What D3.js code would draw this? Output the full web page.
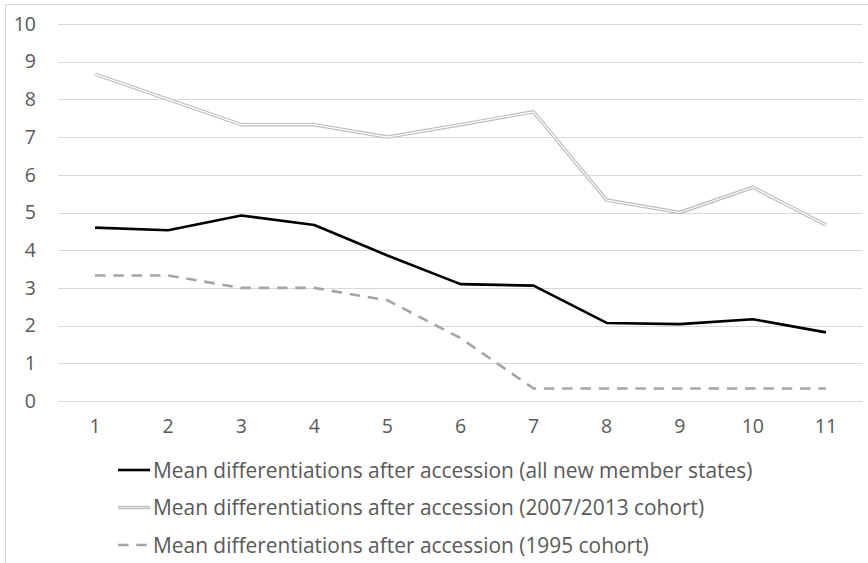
<!DOCTYPE html>
<html>
<head>
<meta charset="utf-8">
<script src="https://cdn.jsdelivr.net/npm/d3@7"></script>
<style>
  html, body { margin: 0; padding: 0; background: #fff; }
  svg { display: block; }
  text { font-family: "Open Sans", "Liberation Sans", sans-serif; fill: #595959; }
</style>
</head>
<body>
<script>
// Years after accession
const years = [1, 2, 3, 4, 5, 6, 7, 8, 9, 10, 11];
// Mean differentiations, per series
const allStates = [4.6, 4.53, 4.92, 4.67, 3.86, 3.1, 3.06, 2.07, 2.04, 2.17, 1.82];
const cohort2007 = [8.67, 8.0, 7.33, 7.33, 7.0, 7.33, 7.67, 5.33, 5.0, 5.67, 4.67];
const cohort1995 = [3.33, 3.33, 3.0, 3.0, 2.67, 1.67, 0.33, 0.33, 0.33, 0.33, 0.33];
const yTicks = [0, 1, 2, 3, 4, 5, 6, 7, 8, 9, 10];
const seriesNames = [
  "Mean differentiations after accession (all new member states)",
  "Mean differentiations after accession (2007/2013 cohort)",
  "Mean differentiations after accession (1995 cohort)"
];

const W = 868, H = 563;
const FONT = "'Open Sans', sans-serif";
const DASH = "10.5,7.8";
const svg = d3.select("body").append("svg").attr("width", W).attr("height", H);

// outer chart frame
svg.append("rect").attr("x", 5.5).attr("y", 4.5).attr("width", W + 10).attr("height", H + 10)
  .attr("fill", "none").attr("stroke", "#d9d9d9").attr("stroke-width", 1);

const x = d3.scaleBand().domain(years).range([58.5, 862.5]);
const y = d3.scaleLinear().domain([0, 10]).range([401, 24]);
const cx = d => x(d) + x.bandwidth() / 2;

// horizontal gridlines
svg.append("g").selectAll("line").data(yTicks).join("line")
  .attr("x1", 58.5).attr("x2", 862.5)
  .attr("y1", d => Math.round(y(d)) + 0.5).attr("y2", d => Math.round(y(d)) + 0.5)
  .attr("stroke", "#d9d9d9").attr("stroke-width", 1);

// y axis labels
const yAxis = d3.axisLeft(y).tickValues(yTicks).tickSize(0).tickPadding(0);
const gy = svg.append("g").attr("transform", "translate(36,0)").call(yAxis);
gy.select(".domain").remove();
gy.selectAll("text").attr("font-size", 19.5).style("font-family", FONT).attr("fill", "#595959");

// x axis labels
const xAxis = d3.axisBottom(x).tickSize(0).tickPadding(0);
const gx = svg.append("g").attr("transform", "translate(0,427)").call(xAxis);
gx.select(".domain").remove();
gx.selectAll("text").attr("font-size", 19.5).attr("dy", "0.32em").style("font-family", FONT).attr("fill", "#595959");

const line = d3.line().x((d, i) => cx(years[i])).y(d => y(d));

// 2007/2013 cohort: double line (gray outline, white core)
svg.append("path").datum(cohort2007).attr("d", line)
  .attr("fill", "none").attr("stroke", "#bcbcbc").attr("stroke-width", 3.5).attr("stroke-linejoin", "round");
svg.append("path").datum(cohort2007).attr("d", line)
  .attr("fill", "none").attr("stroke", "#ffffff").attr("stroke-width", 1.2).attr("stroke-linejoin", "round");

// 1995 cohort: dashed gray
svg.append("path").datum(cohort1995).attr("d", line)
  .attr("fill", "none").attr("stroke", "#a5a5a5").attr("stroke-width", 2.6)
  .attr("stroke-dasharray", DASH);

// all new member states: solid black
svg.append("path").datum(allStates).attr("d", line)
  .attr("fill", "none").attr("stroke", "#000").attr("stroke-width", 2.6).attr("stroke-linejoin", "round");

// legend
const legendY = [470, 507.5, 545];
const lg = svg.append("g");
const sx1 = 118, sx2 = 150;
lg.append("line").attr("x1", sx1).attr("x2", sx2).attr("y1", legendY[0]).attr("y2", legendY[0])
  .attr("stroke", "#000").attr("stroke-width", 2.6);
lg.append("line").attr("x1", sx1).attr("x2", sx2).attr("y1", legendY[1]).attr("y2", legendY[1])
  .attr("stroke", "#bcbcbc").attr("stroke-width", 3.5);
lg.append("line").attr("x1", sx1).attr("x2", sx2).attr("y1", legendY[1]).attr("y2", legendY[1])
  .attr("stroke", "#e6e6e6").attr("stroke-width", 1.2);
lg.append("line").attr("x1", sx1).attr("x2", sx2).attr("y1", legendY[2]).attr("y2", legendY[2])
  .attr("stroke", "#a5a5a5").attr("stroke-width", 2.6).attr("stroke-dasharray", DASH);
lg.selectAll("text").data(seriesNames).join("text")
  .attr("x", 153).attr("y", (d, i) => legendY[i]).attr("dy", "0.36em")
  .attr("font-size", 20.9).style("font-family", FONT).text(d => d);
</script>
</body>
</html>
